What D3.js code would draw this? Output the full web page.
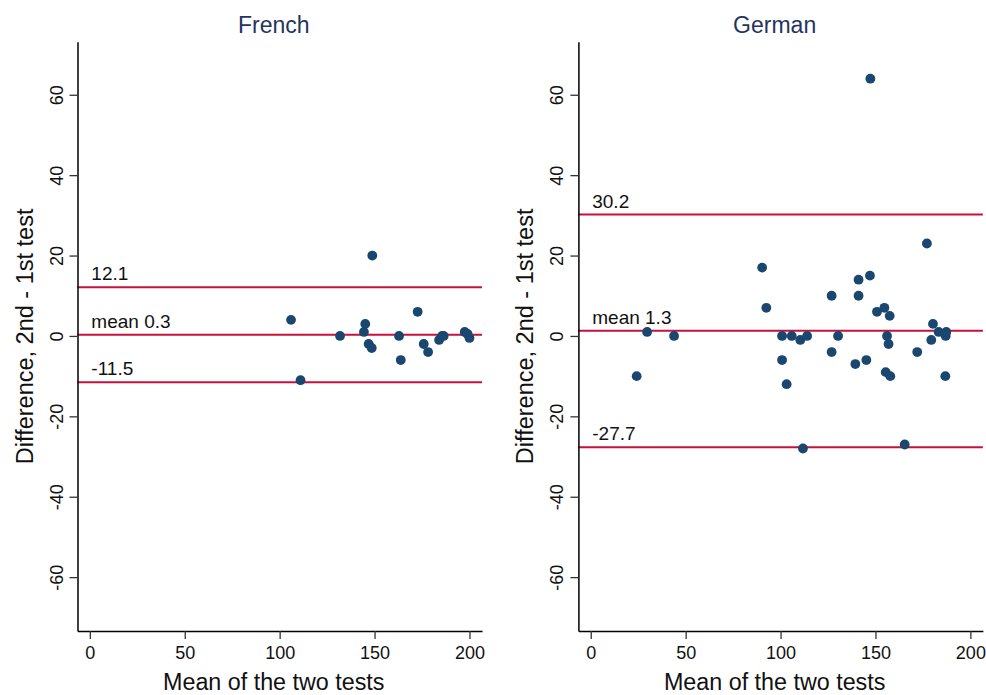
<!DOCTYPE html>
<html>
<head>
<meta charset="utf-8">
<script src="https://cdn.jsdelivr.net/npm/d3@7/dist/d3.min.js"></script>
<style>
  html, body { margin: 0; padding: 0; background: #fff; }
  svg { display: block; font-family: "Liberation Sans", Arial, Helvetica, sans-serif; }
</style>
</head>
<body>
<svg id="chart" width="986" height="695"></svg>
<script>
// ---- Data ----
const panelTitles = ["French", "German"];

const frenchMean = [148.8, 106, 111, 131.8, 145.1, 144.4, 146.9, 148.5, 162.9, 163.8, 172.7, 175.9, 178.2, 184, 185.6, 186.4, 197.5, 199, 200];
const frenchDiff = [20, 4, -11, 0, 3, 1, -2, -3, 0, -6, 6, -2, -4, -1, 0, 0, 1, 0.5, -0.5];

const germanMean = [147.3, 90.3, 92.5, 29.7, 43.9, 24.2, 100.8, 105.9, 110.4, 114, 100.8, 103.2, 111.8,
                    177.1, 141.1, 147.1, 126.9, 141.1, 150.8, 154.7, 157.5, 130.3, 156.1, 156.9, 126.9,
                    139.4, 145.2, 155.4, 157.8, 172, 180.3, 179.4, 183.3, 187.3, 187, 186.8, 165.4];
const germanDiff = [64, 17, 7, 1, 0, -10, 0, 0, -1, 0, -6, -12, -28,
                    23, 14, 15, 10, 10, 6, 7, 5, 0, 0, -2, -4,
                    -7, -6, -9, -10, -4, 3, -1, 1, 1, 0, -10, -27];

const frenchLines = [12.1, 0.3, -11.5];
const germanLines = [30.2, 1.3, -27.7];
const lineLabelPrefix = ["", "mean ", ""];

const xTicks = [0, 50, 100, 150, 200];
const yTicks = [-60, -40, -20, 0, 20, 40, 60];
const xTitle = "Mean of the two tests";
const yTitle = "Difference, 2nd - 1st test";

// ---- Layout ----
(function () {
const svg = d3.select("#chart");
const dotColor = "#1a476f";
const lineColor = "#c8103d";
const titleColor = "#1f3560";
const hyphen = s => String(s).replace("\u2212", "-");

const panels = [
  { title: panelTitles[0], xs: frenchMean, ys: frenchDiff, lines: frenchLines, left: 77.5 },
  { title: panelTitles[1], xs: germanMean, ys: germanDiff, lines: germanLines, left: 578.4 }
];
const plotW = 404.5;
const plotTop = 41.7, plotBottom = 631;

const y = d3.scaleLinear().domain([-73.4, 73.2]).range([plotBottom, plotTop]);

panels.forEach(p => {
  const x = d3.scaleLinear().domain([-6.5, 206.6]).range([p.left, p.left + plotW]);
  const g = svg.append("g");

  // Title
  g.append("text")
    .attr("x", p.left + plotW / 2 - 6)
    .attr("y", 33)
    .attr("text-anchor", "middle")
    .attr("font-size", 23)
    .attr("fill", titleColor)
    .text(p.title);

  // Reference lines
  g.selectAll(".ref").data(p.lines).enter().append("line")
    .attr("x1", p.left).attr("x2", p.left + plotW)
    .attr("y1", d => y(d)).attr("y2", d => y(d))
    .attr("stroke", lineColor).attr("stroke-width", 2);

  g.selectAll(".reflab").data(p.lines).enter().append("text")
    .attr("x", x(0) + 1.5)
    .attr("y", d => y(d) - 7)
    .attr("font-size", 19)
    .attr("fill", "#111")
    .text((d, i) => lineLabelPrefix[i] + hyphen(d.toFixed(1)));

  // Points
  g.selectAll("circle").data(p.xs.map((v, i) => [v, p.ys[i]])).enter().append("circle")
    .attr("cx", d => x(d[0])).attr("cy", d => y(d[1]))
    .attr("r", 4.9)
    .attr("fill", dotColor);

  // X axis
  const xAxis = d3.axisBottom(x).tickValues(xTicks).tickFormat(d => hyphen(d))
    .tickSize(8).tickSizeOuter(0).tickPadding(7);
  const gx = g.append("g").attr("transform", `translate(0,${plotBottom})`).call(xAxis);
  gx.select(".domain").attr("stroke", "#000").attr("stroke-width", 1.5);
  gx.selectAll(".tick line").attr("stroke", "#333").attr("stroke-width", 1.3);
  gx.selectAll(".tick text").attr("font-size", 18).attr("fill", "#111")
    .attr("font-family", "Liberation Sans, Arial, sans-serif");

  // Y axis
  const yAxis = d3.axisLeft(y).tickValues(yTicks).tickFormat(d => hyphen(d))
    .tickSize(8).tickSizeOuter(0).tickPadding(0);
  const gy = g.append("g").attr("transform", `translate(${p.left},0)`).call(yAxis);
  gy.select(".domain").attr("stroke", "#000").attr("stroke-width", 1.5);
  gy.selectAll(".tick line").attr("stroke", "#333").attr("stroke-width", 1.3);
  gy.selectAll(".tick text")
    .attr("font-size", 18).attr("fill", "#111")
    .attr("font-family", "Liberation Sans, Arial, sans-serif")
    .attr("text-anchor", "middle")
    .attr("dy", null)
    .attr("x", null)
    .attr("transform", "translate(-15,0) rotate(-90)");

  // Axis titles
  g.append("text")
    .attr("x", p.left + plotW / 2 - 6)
    .attr("y", 690)
    .attr("text-anchor", "middle")
    .attr("font-size", 23.3)
    .attr("fill", "#111")
    .text(xTitle);

  g.append("text")
    .attr("transform", `translate(${p.left - 45},${(plotTop + plotBottom) / 2}) rotate(-90)`)
    .attr("text-anchor", "middle")
    .attr("font-size", 23.5)
    .attr("fill", "#111")
    .text(yTitle);
});
})();
</script>
</body>
</html>
